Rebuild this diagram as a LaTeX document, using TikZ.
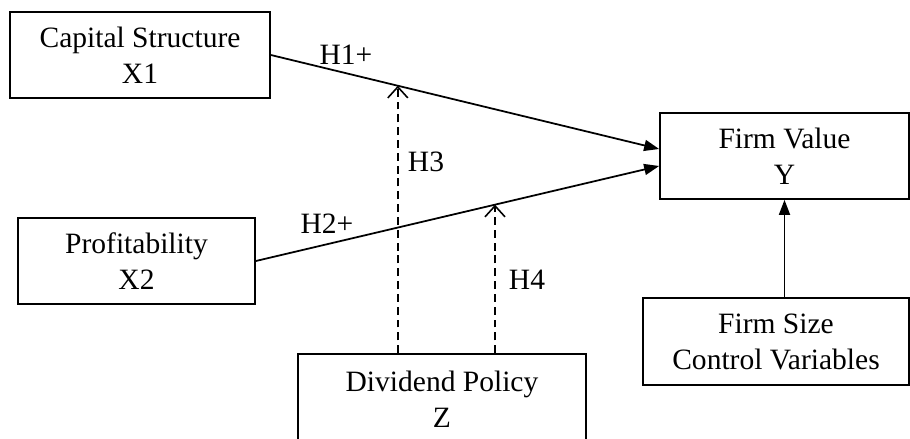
\documentclass[tikz,border=0pt]{standalone}
\usepackage{fontspec}
\setmainfont{Liberation Serif}
\usetikzlibrary{arrows.meta,positioning}

\begin{document}
\begin{tikzpicture}[
  x=0.02cm, y=-0.02cm,
  font=\fontsize{16.8}{20.5}\selectfont,
  box/.style={draw, line width=1pt, align=center, inner sep=0pt, minimum height=1.72cm},
  arrow/.style={-{Triangle[length=3mm, width=2.2mm]}, line width=1pt},
  modarrow/.style={-{Straight Barb[length=2.2mm, width=4mm]}, line width=0.9pt, dash pattern=on 4.5pt off 2.8pt},
  hyp/.style={inner sep=1pt}
]
\useasboundingbox (0,0) rectangle (910,439);
\node[box, minimum width=5.2cm] (capital) at (140,55) {Capital Structure\\X1};
\node[box, minimum width=4.74cm] (profit) at (136.5,261) {Profitability\\X2};
\node[box, minimum width=5.76cm, minimum height=1.8cm] (dividend) at (442,399) {Dividend Policy\\Z};
\node[box, minimum width=4.98cm] (value) at (784.5,156) {Firm Value\\Y};
\node[box, minimum width=5.32cm, minimum height=1.74cm] (size) at (776,341.5) {Firm Size\\Control Variables};
% direct effects
\draw[arrow] (capital.east) -- coordinate[pos=0.327] (m1) ([yshift=0.14cm]value.west);
\draw[arrow] (profit.east) -- coordinate[pos=0.593] (m2) ([yshift=-0.2cm]value.west);
\draw[arrow] (size.north -| value.south) -- (value.south);
% moderation by dividend policy
\draw[modarrow] (dividend.north -| m1) -- (m1);
\draw[modarrow] (dividend.north -| m2) -- (m2);
\node[hyp] (h1) at (346,55) {H1+};
\node[hyp] (h2) at (327,224) {H2+};
\node[hyp] (h3) at (426,162) {H3};
\node[hyp] (h4) at (527,280) {H4};
\end{tikzpicture}
\end{document}
